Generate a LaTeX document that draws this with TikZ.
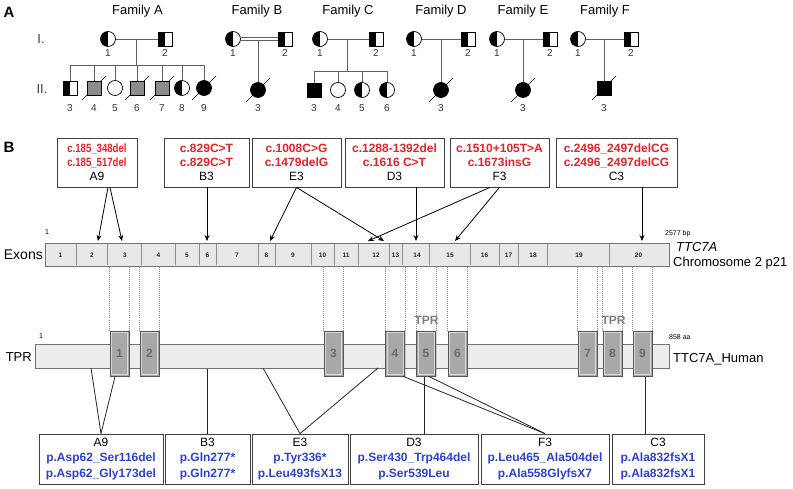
\documentclass[tikz,border=0pt]{standalone}
\usepackage{fontspec}
\setmainfont{Liberation Sans}
\usetikzlibrary{arrows.meta,shadows,calc}
\definecolor{mutred}{RGB}{230,35,40}
\definecolor{mutblue}{RGB}{45,65,215}
\definecolor{pedline}{RGB}{95,95,95}
\newcommand\fs[1]{\fontsize{#1}{#1}\selectfont}
\newcommand\dslash[1]{\draw[slashline] ($(#1)+(-12,12)$) -- ($(#1)+(12,-12)$);}
\begin{document}
\begin{tikzpicture}[x=1pt,y=-1pt,
  every node/.style={inner sep=0pt},
  pm/.style={draw, line width=0.7pt, minimum size=14pt, fill=white},
  pf/.style={draw, circle, line width=0.7pt, minimum size=15pt, fill=white},
  carrier/.style={path picture={\fill[black] (path picture bounding box.north west) rectangle (path picture bounding box.south);}},
  aff/.style={fill=black},
  gaff/.style={fill=black!45},
  pline/.style={draw=pedline, line width=0.8pt},
  slashline/.style={line width=0.7pt, draw=black},
  pnum/.style={font=\fs{10}, text=black!80},
  fam/.style={font=\fs{13}},
  gen/.style={font=\fs{13}, text=black!75},
  sect/.style={font=\bfseries\fs{15}},
  mbox/.style={draw=black!75, line width=0.8pt, align=center, font=\fontsize{12}{14}\selectfont, minimum height=49pt},
  pbox/.style={draw=black!75, line width=0.8pt, align=center, font=\fontsize{12}{15.5}\selectfont, minimum height=50pt},
  arr/.style={-{Stealth[length=6pt,width=5pt]}, line width=0.8pt},
  exnum/.style={font=\bfseries\fs{6.5}, text=black!85},
  small/.style={font=\fs{7}},
  dotl/.style={draw=black!45, line width=0.4pt, dash pattern=on 1pt off 1pt},
  tbox/.style={draw=black!67, line width=1pt, fill=black!34, minimum width=19pt, minimum height=45pt,
     font=\bfseries\fs{12}, text=black!58,
     drop shadow={shadow xshift=1.2pt, shadow yshift=-1.2pt, opacity=0.35},
     path picture={\draw[black!15, line width=0.7pt] ([shift={(1.6pt,1.6pt)}]path picture bounding box.south west) rectangle ([shift={(-1.6pt,-1.6pt)}]path picture bounding box.north east);}},
  plink/.style={line width=0.8pt, draw=black!85},
  tprlab/.style={font=\bfseries\fs{12}, text=black!50}
]
\useasboundingbox[fill=white] (0,0) rectangle (793,489);

% ---------------- Section A ----------------
\node[sect] (labA) at (9,12) {A};
\node[gen] (genI) at (41,39) {I.};
\node[gen] (genII) at (42,89) {II.};

% Family A
\node[fam] (famA) at (137.5,11) {Family A};
\node[pf,carrier] (A1) at (108,39) {};
\node[pm,carrier] (A2) at (165,39) {};
\draw[pline] (A1) -- (A2);
\coordinate (Am) at (136,39);
\coordinate (As) at (136,65);
\draw[pline] (Am) -- (As);
\coordinate (a4) at (94,88);
\coordinate (a6) at (137,88);
\coordinate (a7) at (162,88);
\coordinate (a9) at (204,88);
\dslash{a4}\dslash{a6}\dslash{a7}\dslash{a9}
\node[pm,carrier] (A3) at (70,88) {};
\node[pm,gaff] (A4) at (a4) {};
\node[pf] (A5) at (115,88) {};
\node[pm,gaff] (A6) at (a6) {};
\node[pm,gaff] (A7) at (a7) {};
\node[pf,carrier] (A8) at (182,88) {};
\node[pf,aff] (A9) at (a9) {};
\draw[pline] (A3.north |- As) -- (A9.north |- As);
\foreach \c in {A3,A4,A5,A6,A7,A8,A9} \draw[pline] (\c.north) -- (\c.north |- As);
\node[pnum] (nA1) at (108,53) {1};
\node[pnum] (nA2) at (165,53) {2};
\node[pnum] (nA3) at (70,108) {3};
\node[pnum] (nA4) at (94,108) {4};
\node[pnum] (nA5) at (115,108) {5};
\node[pnum] (nA6) at (137,108) {6};
\node[pnum] (nA7) at (162,108) {7};
\node[pnum] (nA8) at (182,108) {8};
\node[pnum] (nA9) at (204,108) {9};

% Family B
\node[fam] (famB) at (257,11) {Family B};
\node[pf,carrier] (B1) at (233,39) {};
\node[pm,carrier] (B2) at (285,39) {};
\draw[pline] ([yshift=1.6pt]B1.east) -- ([yshift=1.6pt]B2.west);
\draw[pline] ([yshift=-1.6pt]B1.east) -- ([yshift=-1.6pt]B2.west);
\coordinate (b3) at (258,90);
\dslash{b3}
\node[pf,aff] (B3) at (b3) {};
\coordinate (Bm) at (258,40.6);
\draw[pline] (Bm) -- (B3.north);
\node[pnum] (nB1) at (233,53) {1};
\node[pnum] (nB2) at (285,53) {2};
\node[pnum] (nB3) at (258,108) {3};

% Family C
\node[fam] (famC) at (348,11) {Family C};
\node[pf,carrier] (C1) at (320,39) {};
\node[pm,carrier] (C2) at (376,39) {};
\draw[pline] (C1) -- (C2);
\coordinate (Cm) at (347,39);
\coordinate (Cs) at (347,71);
\draw[pline] (Cm) -- (Cs);
\node[pm,aff] (C3) at (314,90) {};
\node[pf] (C4) at (338,90) {};
\node[pf,carrier] (C5) at (362,90) {};
\node[pf,carrier] (C6) at (387,90) {};
\draw[pline] (C3.north |- Cs) -- (C6.north |- Cs);
\foreach \c in {C3,C4,C5,C6} \draw[pline] (\c.north) -- (\c.north |- Cs);
\node[pnum] (nC1) at (320,53) {1};
\node[pnum] (nC2) at (376,53) {2};
\node[pnum] (nC3) at (314,108) {3};
\node[pnum] (nC4) at (338,108) {4};
\node[pnum] (nC5) at (362,108) {5};
\node[pnum] (nC6) at (387,108) {6};

% Family D
\node[fam] (famD) at (441,11) {Family D};
\node[pf,carrier] (D1) at (414,39) {};
\node[pm,carrier] (D2) at (468,39) {};
\draw[pline] (D1) -- (D2);
\coordinate (d3) at (441,90);
\dslash{d3}
\node[pf,aff] (D3) at (d3) {};
\coordinate (Dm) at (441,39);
\draw[pline] (Dm) -- (D3.north);
\node[pnum] (nD1) at (414,53) {1};
\node[pnum] (nD2) at (468,53) {2};
\node[pnum] (nD3) at (441,108) {3};

% Family E
\node[fam] (famE) at (523,11) {Family E};
\node[pf,carrier] (E1) at (497,39) {};
\node[pm,carrier] (E2) at (550,39) {};
\draw[pline] (E1) -- (E2);
\coordinate (e3) at (523,90);
\dslash{e3}
\node[pf,aff] (E3) at (e3) {};
\coordinate (Em) at (523,39);
\draw[pline] (Em) -- (E3.north);
\node[pnum] (nE1) at (497,53) {1};
\node[pnum] (nE2) at (550,53) {2};
\node[pnum] (nE3) at (523,108) {3};

% Family F
\node[fam] (famF) at (605,11) {Family F};
\node[pf,carrier] (F1) at (578,39) {};
\node[pm,carrier] (F2) at (631,39) {};
\draw[pline] (F1) -- (F2);
\coordinate (f3) at (604,88);
\dslash{f3}
\node[pm,aff] (F3) at (f3) {};
\coordinate (Fm) at (604,39);
\draw[pline] (Fm) -- (F3.north);
\node[pnum] (nF1) at (578,53) {1};
\node[pnum] (nF2) at (631,53) {2};
\node[pnum] (nF3) at (604,108) {3};

% ---------------- Section B ----------------
\node[sect] (labB) at (9,147) {B};

% mutation boxes (cDNA)
\node[mbox, minimum width=80pt] (tA9) at (97,162.5)
  {{\color{mutred}\bfseries\scalebox{0.8}[1]{c.185\_348del}}\\{\color{mutred}\bfseries\scalebox{0.8}[1]{c.185\_517del}}\\A9};
\node[mbox, minimum width=85pt] (tB3) at (206.5,162.5)
  {{\color{mutred}\bfseries c.829C>T}\\{\color{mutred}\bfseries c.829C>T}\\B3};
\node[mbox, minimum width=89pt] (tE3) at (296.5,162.5)
  {{\color{mutred}\bfseries c.1008C>G}\\{\color{mutred}\bfseries c.1479delG}\\E3};
\node[mbox, minimum width=99pt] (tD3) at (394.5,162.5)
  {{\color{mutred}\bfseries c.1288-1392del}\\{\color{mutred}\bfseries c.1616 C>T}\\D3};
\node[mbox, minimum width=99pt] (tF3) at (499.5,162.5)
  {{\color{mutred}\bfseries c.1510+105T>A}\\{\color{mutred}\bfseries c.1673insG}\\F3};
\node[mbox, minimum width=121pt] (tC3) at (616.5,162.5)
  {{\color{mutred}\bfseries c.2496\_2497delCG}\\{\color{mutred}\bfseries c.2496\_2497delCG}\\C3};

% exon bar
\node[draw=black!55, line width=0.8pt, fill=black!9, minimum width=624pt, minimum height=23pt, anchor=north west] (exbar) at (45,243) {};
\foreach \x in {76,107,141,175,199,216,258,275,311,334,358,389,402,429,470,499,518,547,609}
  \draw[black!45, line width=1pt] (\x,243.6) -- (\x,265.4);
\foreach \x/\n in {60.5/1,92/2,125/3,158.5/4,187/5,207.5/6,237/7,266.5/8,293/9,322.5/10,346/11,376/12,395.5/13,417/14,450/15,484.5/16,508.5/17,533/18,579/19,638.5/20}
  \node[exnum] (ex\n) at (\x,255) {\n};
\node[font=\fs{14}, anchor=east] (exlab) at (43,255) {Exons};
\node[small] (ex1lab) at (47,232) {1};
\node[small, anchor=west] (bplab) at (665,234) {2577 bp};
\node[font=\itshape\fs{13}, anchor=west] (genelab) at (676,247) {TTC7A};
\node[font=\fs{13}, anchor=west] (chrlab) at (673,263) {Chromosome 2 p21};

% arrows to exons
\coordinate (eA1) at (98,241);
\coordinate (eA2) at (122,241);
\coordinate (eB) at (207,241);
\coordinate (eE1) at (270,241);
\coordinate (eE2) at (384,241);
\coordinate (eD) at (416,241);
\coordinate (eF1) at (368,241);
\coordinate (eF2) at (455,241);
\coordinate (eC) at (642,241);
\draw[arr] ([xshift=11pt]tA9.south) -- (eA1);
\draw[arr] ([xshift=13pt]tA9.south) -- (eA2);
\draw[arr] (tB3.south -| eB) -- (eB);
\draw[arr] (tE3.south) -- (eE1);
\draw[arr] (tE3.south) -- (eE2);
\draw[arr] (tD3.south -| eD) -- (eD);
\draw[arr] ([xshift=-9.5pt]tF3.south) -- (eF1);
\draw[arr] (tF3.south) -- (eF2);
\draw[arr] (tC3.south -| eC) -- (eC);

% protein bar
\node[draw=black!55, line width=0.8pt, fill=black!7, minimum width=634pt, minimum height=24pt, anchor=north west] (tbar) at (35,344) {};
\node[font=\fs{13}, anchor=east] (tprleft) at (32,357) {TPR};
\node[small] (aa1) at (41,336) {1};
\node[small, anchor=west] (aalab) at (669,337) {858 aa};
\node[font=\fs{13}, anchor=west] (protlab) at (673,359) {TTC7A\_Human};

% TPR domains
\node[tbox] (t1) at (119.5,353.5) {1};
\node[tbox] (t2) at (149.5,353.5) {2};
\node[tbox] (t3) at (333.5,353.5) {3};
\node[tbox] (t4) at (395,353.5) {4};
\node[tbox] (t5) at (426,353.5) {5};
\node[tbox] (t6) at (457.5,353.5) {6};
\node[tbox] (t7) at (587.5,353.5) {7};
\node[tbox] (t8) at (612.5,353.5) {8};
\node[tbox] (t9) at (642.5,353.5) {9};

% dotted guides
\foreach \t in {t1,t2,t3,t4,t5,t6,t7,t8,t9} {
  \draw[dotl] (\t.north west) -- (\t.north west |- exbar.south);
  \draw[dotl] (\t.north east) -- (\t.north east |- exbar.south);
}
\node[tprlab] (tprA) at (426.5,320) {TPR};
\node[tprlab] (tprB) at (613.5,320) {TPR};

% protein mutation boxes
\node[pbox, minimum width=124pt] (bA9) at (101,459)
  {A9\\{\color{mutblue}\bfseries p.Asp62\_Ser116del}\\{\color{mutblue}\bfseries p.Asp62\_Gly173del}};
\node[pbox, minimum width=85pt] (bB3) at (207.5,459)
  {B3\\{\color{mutblue}\bfseries p.Gln277*}\\{\color{mutblue}\bfseries p.Gln277*}};
\node[pbox, minimum width=96pt] (bE3) at (300,459)
  {E3\\{\color{mutblue}\bfseries p.Tyr336*}\\{\color{mutblue}\bfseries p.Leu493fsX13}};
\node[pbox, minimum width=128pt] (bD3) at (414,459)
  {D3\\{\color{mutblue}\bfseries p.Ser430\_Trp464del}\\{\color{mutblue}\bfseries p.Ser539Leu}};
\node[pbox, minimum width=128pt] (bF3) at (545,459)
  {F3\\{\color{mutblue}\bfseries p.Leu465\_Ala504del}\\{\color{mutblue}\bfseries p.Ala558GlyfsX7}};
\node[pbox, minimum width=92pt] (bC3) at (658,459)
  {C3\\{\color{mutblue}\bfseries p.Ala832fsX1}\\{\color{mutblue}\bfseries p.Ala832fsX1}};

% links protein -> boxes
\coordinate (pA) at (91,368);
\coordinate (pE1) at (263,368);
\coordinate (pE2) at (378,368);
\draw[plink] (pA) -- (bA9.north);
\draw[plink] ([xshift=-4.5pt]t1.south) -- (bA9.north);
\draw[plink] (bB3.north |- tbar.south) -- (bB3.north);
\draw[plink] (pE1) -- (bE3.north);
\draw[plink] (pE2) -- (bE3.north);
\coordinate (d3s) at ([xshift=-2pt]t5.south);
\draw[plink] (d3s) -- (d3s |- bD3.north);
\draw[plink] ([xshift=-1.5pt]t4.south east) -- (bF3.north);
\draw[plink] ([xshift=3pt]t5.south) -- (bF3.north);
\coordinate (c3s) at ([xshift=2.5pt]t9.south);
\draw[plink] (c3s) -- (c3s |- bC3.north);
\end{tikzpicture}
\end{document}
